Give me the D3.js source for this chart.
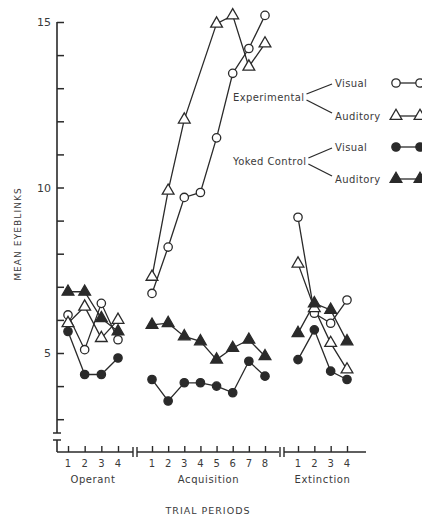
<!DOCTYPE html>
<html>
<head>
<meta charset="UTF-8">
<script src="https://d3js.org/d3.v7.min.js"></script>
<style>
    body { margin: 0; background: #fff; }
    svg { display: block; }
    text { font-family: 'DejaVu Sans', sans-serif; fill: #3a3a3a; }
</style>
</head>
<body>
<svg width="422" height="517"></svg>
<script>
    // trial periods per phase
    let operantTrials = [1, 2, 3, 4];
    let acqTrials = [1, 2, 3, 4, 5, 6, 7, 8];
    let extTrials = [1, 2, 3, 4];
    let phaseNames = ["Operant", "Acquisition", "Extinction"];

    // mean eyeblinks (null = no visible marker)
    let expVisualOp = [6.15, 5.1, 6.5, 5.4];
    let expVisualAcq = [6.8, 8.2, 9.7, 9.85, 11.5, 13.45, 14.2, 15.2];
    let expVisualExt = [9.1, 6.2, 5.9, 6.6];

    let expAuditoryOp = [5.9, 6.4, 5.45, 6.0];
    let expAuditoryAcq = [7.3, 9.9, 12.05, null, 14.95, 15.2, 13.65, 14.35];
    let expAuditoryExt = [7.7, 6.35, 5.3, 4.5];

    let yokedVisualOp = [5.65, 4.35, 4.35, 4.85];
    let yokedVisualAcq = [4.2, 3.55, 4.1, 4.1, 4.0, 3.8, 4.75, 4.3];
    let yokedVisualExt = [4.8, 5.7, 4.45, 4.2];

    let yokedAuditoryOp = [6.85, 6.85, 6.05, 5.65];
    let yokedAuditoryAcq = [5.85, 5.9, 5.5, 5.35, 4.8, 5.15, 5.4, 4.9];
    let yokedAuditoryExt = [5.6, 6.5, 6.3, 5.35];

    let yTicks = [3, 4, 5, 6, 7, 8, 9, 10, 11, 12, 13, 14, 15];
    let yLabels = [5, 10, 15];

    let svg = d3.select("svg");
    let ink = "#2a2a2a";

    let y = d3.scaleLinear().domain([5, 15]).range([353, 22]);
    let xOp = d3.scaleLinear().domain([1, 4]).range([68, 118]);
    let xAcq = d3.scaleLinear().domain([1, 8]).range([152, 265]);
    let xExt = d3.scaleLinear().domain([1, 4]).range([298, 347]);

    let axisY = 452, axisX = 57;

    // y axis with break near the bottom
    let yAxis = d3.axisLeft(y)
        .tickValues(yTicks)
        .tickSize(-7)
        .tickPadding(6)
        .tickFormat(d => yLabels.includes(d) ? d : "");
    let gy = svg.append("g")
        .attr("transform", `translate(${axisX},0)`)
        .call(yAxis);
    gy.select(".domain").remove();
    gy.selectAll(".tick line").attr("stroke", ink).attr("stroke-width", 1.5);
    gy.selectAll(".tick text").attr("font-size", 11).attr("fill", "#444");

    svg.append("line").attr("x1", axisX).attr("x2", axisX).attr("y1", y(15)).attr("y2", 433)
        .attr("stroke", ink).attr("stroke-width", 1.6);
    svg.append("line").attr("x1", axisX).attr("x2", axisX).attr("y1", 440).attr("y2", axisY)
        .attr("stroke", ink).attr("stroke-width", 1.6);
    [433, 440].forEach(v => {
        svg.append("line").attr("x1", axisX - 4).attr("x2", axisX + 4).attr("y1", v).attr("y2", v)
            .attr("stroke", ink).attr("stroke-width", 1.5);
    });

    // x axis segments with breaks
    let segments = [
        { scale: xOp, trials: operantTrials, from: axisX, to: 133, name: phaseNames[0] },
        { scale: xAcq, trials: acqTrials, from: 137, to: 279, name: phaseNames[1] },
        { scale: xExt, trials: extTrials, from: 284, to: 366, name: phaseNames[2] }
    ];
    segments.forEach((s, i) => {
        svg.append("line").attr("x1", s.from).attr("x2", s.to).attr("y1", axisY).attr("y2", axisY)
            .attr("stroke", ink).attr("stroke-width", 1.6);
        let g = svg.append("g").attr("transform", `translate(0,${axisY})`)
            .call(d3.axisTop(s.scale).tickValues(s.trials).tickSize(6).tickFormat(""));
        g.select(".domain").remove();
        g.selectAll(".tick line").attr("stroke", ink).attr("stroke-width", 1.4);
        svg.append("g").selectAll("text").data(s.trials).join("text")
            .attr("x", d => s.scale(d)).attr("y", axisY + 15)
            .attr("text-anchor", "middle").attr("font-size", 10)
            .text(d => d);
        let mid = (s.scale.range()[0] + s.scale.range()[1]) / 2;
        svg.append("text").attr("x", mid).attr("y", axisY + 31)
            .attr("text-anchor", "middle").attr("font-size", 10).attr("letter-spacing", 0.6)
            .text(s.name);
        if (i > 0) {
            [s.from - 4, s.from].forEach(bx => {
                svg.append("line").attr("x1", bx).attr("x2", bx).attr("y1", axisY - 5).attr("y2", axisY + 5)
                    .attr("stroke", ink).attr("stroke-width", 1.4);
            });
        }
    });

    svg.append("text").attr("x", 208).attr("y", 514)
        .attr("text-anchor", "middle").attr("font-size", 9.5).attr("letter-spacing", 1)
        .text("TRIAL PERIODS");
    svg.append("text").attr("transform", "translate(21,234) rotate(-90)")
        .attr("text-anchor", "middle").attr("font-size", 9).attr("letter-spacing", 1.1)
        .text("MEAN EYEBLINKS");

    let series = [
        { data: [expVisualOp, expVisualAcq, expVisualExt], shape: d3.symbolCircle, filled: false },
        { data: [expAuditoryOp, expAuditoryAcq, expAuditoryExt], shape: d3.symbolTriangle, filled: false },
        { data: [yokedVisualOp, yokedVisualAcq, yokedVisualExt], shape: d3.symbolCircle, filled: true },
        { data: [yokedAuditoryOp, yokedAuditoryAcq, yokedAuditoryExt], shape: d3.symbolTriangle, filled: true }
    ];
    let scales = [xOp, xAcq, xExt];
    let trialSets = [operantTrials, acqTrials, extTrials];
    let symSize = s => s === d3.symbolCircle ? 55 : 60;

    let line = d3.line().x(d => d.x).y(d => d.y);
    series.forEach(ser => {
        ser.data.forEach((vals, p) => {
            let pts = trialSets[p].map((t, i) => ({ x: scales[p](t), y: vals[i] == null ? null : y(vals[i]) }))
                .filter(d => d.y != null);
            svg.append("path").datum(pts).attr("d", line)
                .attr("fill", "none").attr("stroke", ink).attr("stroke-width", 1.3);
        });
    });
    series.forEach(ser => {
        ser.data.forEach((vals, p) => {
            let pts = trialSets[p].map((t, i) => ({ x: scales[p](t), y: vals[i] == null ? null : y(vals[i]) }))
                .filter(d => d.y != null);
            svg.append("g").selectAll("path").data(pts).join("path")
                .attr("transform", d => `translate(${d.x},${d.y})`)
                .attr("d", d3.symbol().type(ser.shape).size(symSize(ser.shape)))
                .attr("fill", ser.filled ? ink : "#fff")
                .attr("stroke", ink).attr("stroke-width", 1.3);
        });
    });

    // legend
    let legendGroups = [
        { name: "Experimental", x: 233, y: 101, items: [["Visual", 83, series[0]], ["Auditory", 116, series[1]]] },
        { name: "Yoked Control", x: 233, y: 165, items: [["Visual", 147, series[2]], ["Auditory", 179, series[3]]] }
    ];
    legendGroups.forEach(lg => {
        let t = svg.append("text").attr("x", lg.x).attr("y", lg.y)
            .attr("font-size", 10).attr("letter-spacing", 0.4).text(lg.name);
        let tw = t.node().getComputedTextLength() + lg.x + 2;
        lg.items.forEach(([label, ly, ser], k) => {
            svg.append("line")
                .attr("x1", tw).attr("y1", lg.y - 4 + (k === 0 ? -3 : 3))
                .attr("x2", 332).attr("y2", ly + (k === 0 ? 1 : -3))
                .attr("stroke", ink).attr("stroke-width", 1.3);
            svg.append("text").attr("x", 335).attr("y", ly + 3.5)
                .attr("font-size", 10).attr("letter-spacing", 0.4).text(label);
            svg.append("line").attr("x1", 396).attr("x2", 420).attr("y1", ly).attr("y2", ly)
                .attr("stroke", ink).attr("stroke-width", 1.3);
            [396, 420].forEach(mx => {
                svg.append("path").attr("transform", `translate(${mx},${ly})`)
                    .attr("d", d3.symbol().type(ser.shape).size(symSize(ser.shape)))
                    .attr("fill", ser.filled ? ink : "#fff")
                    .attr("stroke", ink).attr("stroke-width", 1.3);
            });
        });
    });
</script>
</body>
</html>
